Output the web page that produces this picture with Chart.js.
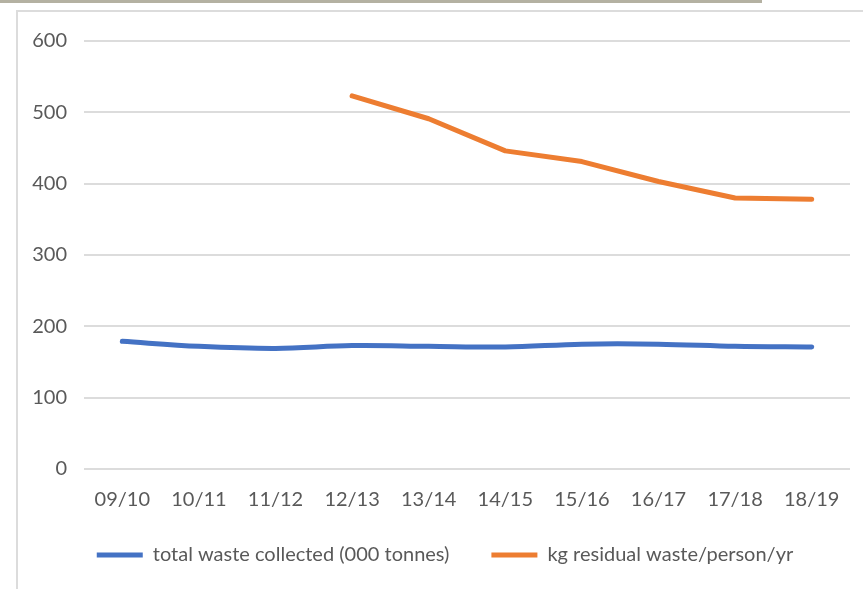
<!DOCTYPE html>
<html>
<head>
<meta charset="utf-8">
<script src="https://cdn.jsdelivr.net/npm/chart.js@4"></script>
<style>
  body { margin: 0; background: #fff; width: 863px; height: 589px; overflow: hidden; position: relative; }
  #topBar { position: absolute; left: 0; top: 0; width: 762px; height: 3px; background: #b4b1a2; }
  #frame { position: absolute; left: 16px; top: 10px; width: 847px; height: 579px;
           border-top: 2px solid #dcdcdc; border-left: 2px solid #dcdcdc; box-sizing: border-box; }
  #wrap { position: absolute; left: 0; top: 0; width: 845px; height: 577px; }
</style>
</head>
<body>
<div id="topBar"></div>
<div id="frame"><div id="wrap"><canvas id="wasteChart"></canvas></div></div>
<script>
const years = ["09/10", "10/11", "11/12", "12/13", "13/14", "14/15", "15/16", "16/17", "17/18", "18/19"];
const totalCollected = [179, 172, 169, 173, 172, 171, 175, 175, 172, 171];
const residualPerPerson = [null, null, null, 523, 491, 446, 431, 403, 380, 378];
const yTicks = [0, 100, 200, 300, 400, 500, 600];

const axisFont = { family: "Lato, 'Open Sans', sans-serif", size: 20 };

// pull the legend up closer to the category labels and centre it under the plot
const legendNudge = {
  id: "legendNudge",
  afterLayout(chart) {
    const lg = chart.legend;
    if (!lg) return;
    lg.top -= 12;
    lg.bottom -= 12;
    lg.left += 11;
    lg.right += 11;
  },
};

new Chart(document.getElementById("wasteChart"), {
  type: "line",
  data: {
    labels: years,
    datasets: [
      {
        label: "total waste collected (000 tonnes)",
        data: totalCollected,
        borderColor: "#4472c4",
        backgroundColor: "#4472c4",
        borderWidth: 5,
        borderCapStyle: "round",
        borderJoinStyle: "round",
        tension: 0.35,
        pointRadius: 0,
      },
      {
        label: "kg residual waste/person/yr",
        data: residualPerPerson,
        borderColor: "#ed7d31",
        backgroundColor: "#ed7d31",
        borderWidth: 5,
        borderCapStyle: "round",
        borderJoinStyle: "round",
        tension: 0,
        pointRadius: 0,
      },
    ],
  },
  options: {
    responsive: true,
    maintainAspectRatio: false,
    animation: false,
    layout: { padding: { top: 28, right: 13, bottom: 2, left: 0 } },
    scales: {
      x: {
        offset: true,
        grid: { display: false },
        border: { display: false },
        ticks: { color: "#595959", font: axisFont, padding: 11, maxRotation: 0 },
        afterFit: (scale) => { scale.height = 46; },
      },
      y: {
        min: 0,
        max: 600,
        afterBuildTicks: (scale) => { scale.ticks = yTicks.map((v) => ({ value: v })); },
        grid: { color: "#dcdcdc", lineWidth: 2, drawTicks: false },
        border: { display: false },
        ticks: { color: "#595959", font: axisFont, padding: 17 },
        afterFit: (scale) => { scale.width = 66; },
      },
    },
    plugins: {
      legend: {
        position: "bottom",
        labels: {
          color: "#595959",
          font: axisFont,
          boxWidth: 46,
          boxHeight: 5,
          padding: 42,
          useBorderRadius: true,
          borderRadius: 3,
          generateLabels: (chart) =>
            chart.data.datasets.map((ds, i) => ({
              text: ds.label,
              fillStyle: ds.borderColor,
              strokeStyle: ds.borderColor,
              lineWidth: 0,
              fontColor: "#595959",
              datasetIndex: i,
            })),
        },
      },
      tooltip: { enabled: false },
    },
  },
  plugins: [legendNudge],
});
</script>
</body>
</html>
